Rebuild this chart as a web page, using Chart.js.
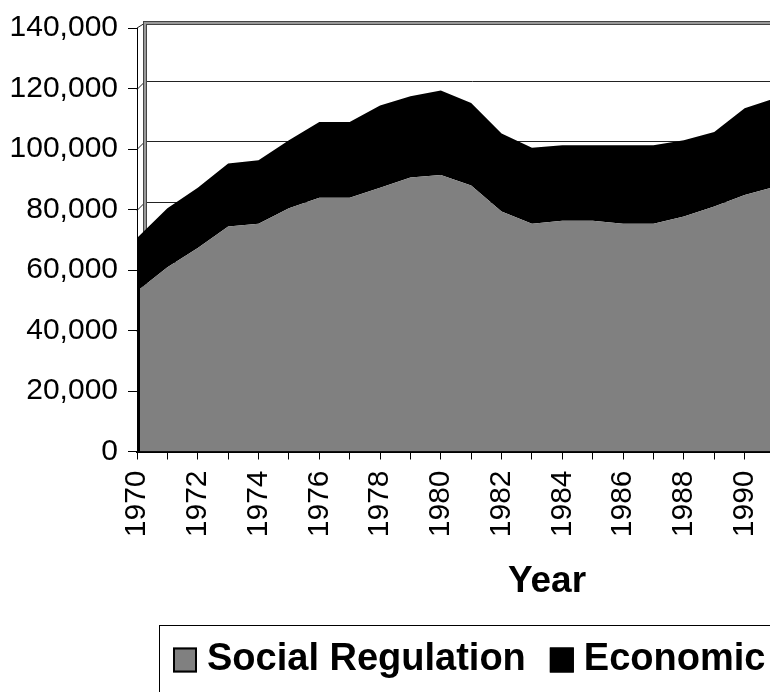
<!DOCTYPE html>
<html>
<head>
<meta charset="utf-8">
<script src="https://cdn.jsdelivr.net/npm/chart.js@4.4.1/dist/chart.umd.min.js"></script>
<style>
  html, body { margin: 0; padding: 0; background: #fff; overflow: hidden; width: 770px; height: 692px; }
  canvas { display: block; }
</style>
</head>
<body>
<canvas id="chart" width="800" height="692"></canvas>
<script>
// Data (stacked areas)
const years = ['1970', '1971', '1972', '1973', '1974', '1975', '1976', '1977', '1978', '1979', '1980',
               '1981', '1982', '1983', '1984', '1985', '1986', '1987', '1988', '1989', '1990', '1991'];
const socialRegulation = [53000, 60900, 67300, 74400, 75300, 80400, 83900, 83900, 87200, 90600, 91400,
                          87900, 79300, 75300, 76300, 76300, 75300, 75300, 77700, 81000, 84800, 87500];
const economic = [17600, 19500, 19900, 20800, 21000, 22500, 25000, 25000, 27200, 26800, 27900,
                  27300, 25800, 25100, 24900, 24900, 25900, 25900, 25200, 24600, 28700, 29300];
const seriesNames = ['Social Regulation', 'Economic'];
const seriesColors = ['#808080', '#000000'];
const yTicks = { min: 0, max: 140000, step: 20000 };
const xTitle = 'Year';

const FONT = "'Liberation Sans', Arial, sans-serif";
const DEPTH = 8; // fake 3D wall offset

// Back wall + gridlines, drawn behind the areas
const wallPlugin = {
    id: 'wall3d',
    beforeDatasetsDraw(chart) {
        const { ctx, chartArea: a, scales: { y } } = chart;
        ctx.save();
        ctx.strokeStyle = '#222';
        ctx.lineWidth = 1;
        y.ticks.forEach(t => {
            if (t.value <= yTicks.min || t.value >= yTicks.max) return;
            const py = Math.round(y.getPixelForValue(t.value)) + 0.5;
            ctx.beginPath();
            ctx.moveTo(a.left, py);
            ctx.lineTo(a.left + DEPTH, py - DEPTH);
            ctx.lineTo(chart.width, py - DEPTH);
            ctx.stroke();
        });
        // wall top edge and left edge
        const top = y.getPixelForValue(yTicks.max);
        ctx.beginPath();
        ctx.moveTo(a.left, top);
        ctx.lineTo(a.left + DEPTH, top - 5);
        ctx.stroke();
        ctx.lineWidth = 4;
        ctx.strokeStyle = '#444';
        ctx.beginPath();
        ctx.moveTo(chart.width, top - 5);
        ctx.lineTo(a.left + DEPTH, top - 5);
        ctx.lineTo(a.left + DEPTH, a.bottom - DEPTH);
        ctx.stroke();
        ctx.lineWidth = 2;
        ctx.strokeStyle = '#999';
        ctx.stroke();
        ctx.restore();
    },
    afterDatasetsDraw(chart) {
        // dark side face at the left end of the stack
        const { ctx, chartArea: a, scales: { x, y } } = chart;
        const px = x.getPixelForValue(0);
        ctx.save();
        ctx.strokeStyle = '#000';
        ctx.lineWidth = 3;
        ctx.beginPath();
        ctx.moveTo(px + 1.5, a.bottom);
        ctx.lineTo(px + 1.5, y.getPixelForValue(socialRegulation[0] + economic[0]));
        ctx.stroke();
        ctx.restore();
    },
    afterDraw(chart) {
        const { ctx } = chart;
        ctx.save();
        // axis title
        ctx.fillStyle = '#000';
        ctx.font = `bold 37px ${FONT}`;
        ctx.textAlign = 'center';
        ctx.textBaseline = 'alphabetic';
        ctx.fillText(xTitle, 547, 592);

        // legend box
        ctx.strokeStyle = '#000';
        ctx.lineWidth = 1;
        ctx.strokeRect(159.5, 625.5, 720, 120);
        ctx.font = `bold 38px ${FONT}`;
        ctx.textAlign = 'left';
        let lx = 173;
        chart.data.datasets.forEach((ds, i) => {
            ctx.fillStyle = ds.backgroundColor;
            ctx.fillRect(lx, 647.5, 24, 25);
            ctx.lineWidth = 2;
            ctx.strokeStyle = '#000';
            ctx.strokeRect(lx + 1, 648.5, 22, 23);
            ctx.fillStyle = '#000';
            ctx.fillText(ds.label, lx + 34, 670);
            lx += 34 + ctx.measureText(ds.label).width + 24;
        });
        ctx.restore();
    }
};

new Chart(document.getElementById('chart'), {
    type: 'line',
    data: {
        labels: years,
        datasets: [
            {
                label: seriesNames[0],
                data: socialRegulation,
                backgroundColor: seriesColors[0],
                borderWidth: 0,
                pointRadius: 0,
                fill: 'origin',
                tension: 0
            },
            {
                label: seriesNames[1],
                data: economic,
                backgroundColor: seriesColors[1],
                borderWidth: 0,
                pointRadius: 0,
                fill: '-1',
                tension: 0
            }
        ]
    },
    options: {
        responsive: false,
        animation: false,
        layout: { padding: { top: 25, right: 25, left: 0, bottom: 0 } },
        plugins: {
            legend: { display: false },
            tooltip: { enabled: false }
        },
        scales: {
            x: {
                type: 'category',
                offset: false,
                grid: { drawOnChartArea: false, drawTicks: true, tickLength: 8, color: '#000', lineWidth: 1 },
                border: { display: true, color: '#000', width: 2 },
                ticks: {
                    autoSkip: false,
                    maxRotation: 90,
                    minRotation: 90,
                    padding: 11,
                    color: '#000',
                    font: { family: FONT, size: 30 },
                    callback: (v, i) => (i % 2 === 0 ? years[i] : '')
                },
                afterFit: s => { s.height = 240.5; s.paddingLeft = 0; s.paddingRight = 0; }
            },
            y: {
                stacked: true,
                min: yTicks.min,
                max: yTicks.max,
                grid: { drawOnChartArea: false, drawTicks: true, tickLength: 9, color: '#000', lineWidth: 1 },
                border: { display: true, color: '#000', width: 1 },
                ticks: {
                    stepSize: yTicks.step,
                    padding: 10,
                    color: '#000',
                    font: { family: FONT, size: 30 },
                    callback: v => v.toLocaleString('en-US')
                },
                afterFit: s => { s.width = 137; }
            }
        }
    },
    plugins: [wallPlugin]
});
</script>
</body>
</html>
